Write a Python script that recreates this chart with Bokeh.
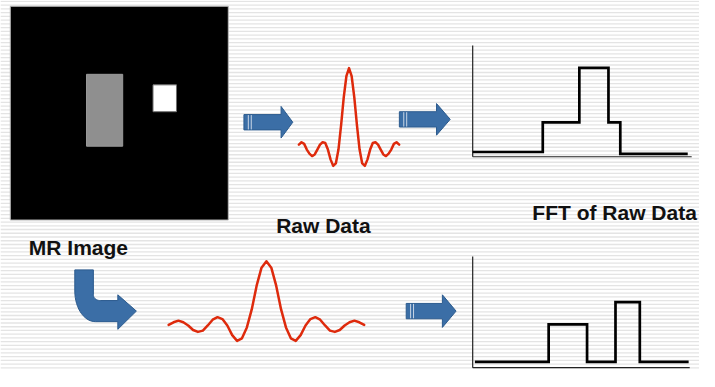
import numpy as np
from bokeh.plotting import figure
from bokeh.models import Range1d
from bokeh.core.properties import value
from bokeh.embed import file_html
from bokeh.resources import INLINE

# ---------------- data ----------------
# Raw data profiles: amplitude (peak = 1) sampled every 0.25 lobe units
raw_top_t = np.arange(-4.75, 4.76, 0.25)
raw_top_amp = [0.06, 0.09, 0.07, 0.0, -0.05, -0.08, -0.06, 0.0, 0.06, 0.09,
               0.08, 0.0, -0.12, -0.20, -0.17, 0.0, 0.30, 0.64, 0.90, 1.0,
               0.90, 0.64, 0.30, 0.0, -0.17, -0.20, -0.12, 0.0, 0.08, 0.09,
               0.06, 0.0, -0.06, -0.08, -0.05, 0.0, 0.07, 0.09, 0.06]

raw_bot_t = np.arange(-5.0, 5.01, 0.25)
raw_bot_amp = [0.01, 0.05, 0.075, 0.05, 0.0, -0.07, -0.10, -0.08, 0.0, 0.09,
               0.13, 0.10, 0.0, -0.15, -0.24, -0.20, -0.03, 0.25, 0.62, 0.90,
               1.0,
               0.90, 0.62, 0.25, -0.03, -0.20, -0.24, -0.15, 0.0, 0.10, 0.13,
               0.09, 0.0, -0.08, -0.10, -0.07, 0.0, 0.05, 0.075, 0.05, 0.01]

# FFT profiles: step start positions (% of axis width) and levels (fraction of axis height)
fft_top_freq = [0, 32, 48.7, 62, 67.4, 98.2]
fft_top_level = [0.043, 0.31, 0.80, 0.31, 0.026, 0.026]

fft_bot_freq = [1, 35, 52.7, 65.8, 77, 99.5]
fft_bot_level = [0.052, 0.39, 0.052, 0.59, 0.052, 0.052]

labels = ["MR Image", "Raw Data", "FFT of Raw Data"]

# ---------------- figure ----------------
W, H = 699, 371
p = figure(width=W, height=H, output_backend="svg", toolbar_location=None,
           x_range=Range1d(0, 715), y_range=Range1d(387, 0),
           x_axis_type=None, y_axis_type=None, min_border=0,
           background_fill_color="white", border_fill_color="white")
p.outline_line_color = None
p.grid.visible = False

# striped background
ys = np.arange(1, 387, 3.9)
p.segment(x0=0, x1=715, y0=ys, y1=ys, line_color="#e4e4e4", line_width=1.3)

# MR image phantom
p.quad(left=10, right=233, top=6, bottom=229, fill_color="black", line_color="#bbbbbb", line_width=1)
p.quad(left=88, right=125, top=77, bottom=152, fill_color="#8f8f8f", line_color="#9a9a9a", line_width=1)
p.quad(left=156, right=180, top=88, bottom=116, fill_color="white", line_color="#707070", line_width=1)

# arrows
ARROW_FILL = "#3B6EA6"
ARROW_LINE = "#2C5B8E"

def straight_arrow(x0, x1, yc, shaft, head, head_len):
    hx = x1 - head_len
    xs = [x0, hx, hx, x1, hx, hx, x0]
    ys_ = [yc - shaft / 2, yc - shaft / 2, yc - head / 2, yc, yc + head / 2, yc + shaft / 2, yc + shaft / 2]
    p.patch(xs, ys_, fill_color=ARROW_FILL, line_color=ARROW_LINE, line_width=1)
    for dx in (4.5, 7.5):
        p.segment(x0=x0 + dx, x1=x0 + dx, y0=yc - shaft / 2 + 0.5, y1=yc + shaft / 2 - 0.5,
                  line_color="#c9d6e6", line_width=1)

straight_arrow(249, 299, 127, 16, 33, 12)
straight_arrow(408, 460, 124, 16, 33, 14)
straight_arrow(415, 466, 324, 16, 34, 14)

# curved arrow
th = np.linspace(np.pi, np.pi / 2, 16)
outer_x = 97 + 21 * np.cos(th)
outer_y = 303 + 32 * np.sin(th)
inner_x = (102 + 7 * np.cos(th))[::-1]
inner_y = (307 + 6 * np.sin(th))[::-1]
cx = [76] + list(outer_x) + [120, 120, 139, 120, 120] + list(inner_x) + [95]
cy = [281] + list(outer_y) + [335, 343, 324, 307, 313] + list(inner_y) + [281]
p.patch(cx, cy, fill_color=ARROW_FILL, line_color=ARROW_LINE, line_width=1)

# raw data curves
RED = "#de2a0c"
p.line(356.5 + 10.8 * raw_top_t, 155.5 - 85 * np.array(raw_top_amp),
       line_color=RED, line_width=2.5, line_join="round", line_cap="round")
p.line(272 + 20 * raw_bot_t, 339 - 67 * np.array(raw_bot_amp),
       line_color=RED, line_width=2.5, line_join="round", line_cap="round")

# FFT panels
def fft_panel(ax_x0, ax_y0, ax_w, ax_h, freq, level):
    p.line([ax_x0, ax_x0], [ax_y0 - ax_h, ax_y0], line_color="#222222", line_width=1.2)
    p.line([ax_x0, ax_x0 + ax_w], [ax_y0, ax_y0], line_color="#222222", line_width=1.2)
    xs_ = ax_x0 + np.array(freq) / 100.0 * ax_w
    ys_ = ax_y0 - np.array(level) * ax_h
    p.step(xs_, ys_, mode="after", line_color="black", line_width=2.7, line_join="miter")

fft_panel(483, 163, 224, 116, fft_top_freq, fft_top_level)
fft_panel(483, 383, 222, 116, fft_bot_freq, fft_bot_level)

# labels
p.text(x=[29, 282, 544], y=[258, 235, 221], text=labels,
       text_font=value("Liberation Sans"), text_font_style="bold",
       text_font_size="21px", text_color="#111111",
       text_align="left", text_baseline="alphabetic")

open("out.html", "w").write(file_html(p, INLINE))
